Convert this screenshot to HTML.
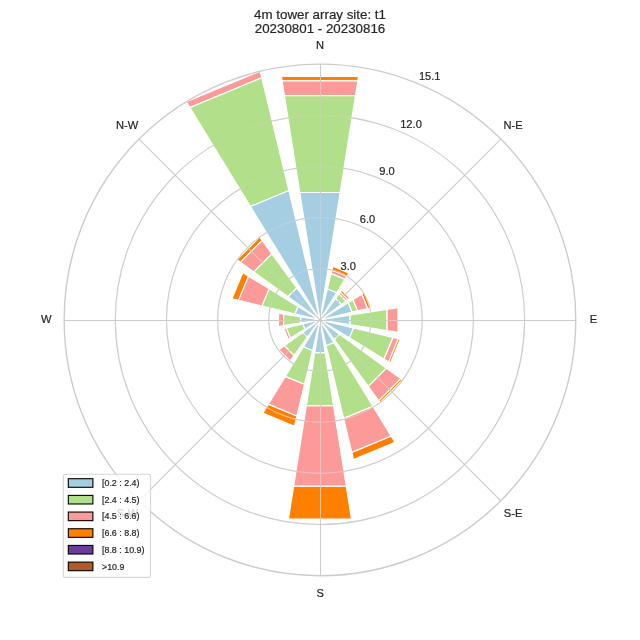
<!DOCTYPE html><html><head><meta charset="utf-8"><title>windrose</title>
<style>html,body{margin:0;padding:0;background:#fff}svg{display:block}text{font-family:'Liberation Sans',Arial,sans-serif;fill:#262626;stroke:#262626;stroke-width:0.2px}</style></head><body>
<svg width="640" height="640" viewBox="0 0 640 640">
<rect width="640" height="640" fill="#fff"/>
<defs><clipPath id="c"><circle cx="319.95" cy="319.90" r="255.80"/></clipPath></defs>
<g clip-path="url(#c)" stroke="#fff" stroke-width="1.2" stroke-linejoin="miter">
<polygon points="282.09,80.88 357.81,80.88 358.51,76.43 281.39,76.43" fill="#ff7f00"/>
<polygon points="331.90,270.11 346.70,276.24 348.79,272.83 332.84,266.23" fill="#ff7f00"/>
<polygon points="340.17,292.07 347.78,299.68 349.80,298.21 341.64,290.05" fill="#ff7f00"/>
<polygon points="361.73,294.30 367.60,308.46 370.42,307.78 364.20,292.78" fill="#ff7f00"/>
<polygon points="398.13,338.67 388.50,361.91 390.38,363.06 400.27,339.18" fill="#ff7f00"/>
<polygon points="400.69,378.56 378.61,400.64 380.02,402.58 402.63,379.97" fill="#ff7f00"/>
<polygon points="391.11,436.03 351.75,452.34 353.47,459.53 394.98,442.34" fill="#ff7f00"/>
<polygon points="346.28,486.13 293.62,486.13 288.40,519.12 351.50,519.12" fill="#ff7f00"/>
<polygon points="296.89,415.97 268.33,404.14 262.84,413.09 294.43,426.18" fill="#ff7f00"/>
<polygon points="238.56,300.36 248.58,276.17 242.79,272.61 231.95,298.77" fill="#ff7f00"/>
<polygon points="240.50,262.18 262.23,240.45 259.64,236.89 236.94,259.59" fill="#ff7f00"/>
<polygon points="284.42,95.60 355.48,95.60 357.81,80.88 282.09,80.88" fill="#fb9a99"/>
<polygon points="331.06,273.62 344.82,279.31 346.70,276.24 331.90,270.11" fill="#fb9a99"/>
<polygon points="338.82,293.93 345.92,301.03 347.78,299.68 340.17,292.07" fill="#fb9a99"/>
<polygon points="352.86,299.73 357.48,310.89 367.60,308.46 361.73,294.30" fill="#fb9a99"/>
<polygon points="386.82,309.31 386.82,330.49 397.98,332.26 397.98,307.54" fill="#fb9a99"/>
<polygon points="392.88,337.41 383.90,359.09 388.50,361.91 398.13,338.67" fill="#fb9a99"/>
<polygon points="386.37,368.16 368.21,386.32 378.61,400.64 400.69,378.56" fill="#fb9a99"/>
<polygon points="372.88,406.27 343.60,418.40 351.75,452.34 391.11,436.03" fill="#fb9a99"/>
<polygon points="333.54,405.73 306.36,405.73 293.62,486.13 346.28,486.13" fill="#fb9a99"/>
<polygon points="304.50,384.27 285.36,376.34 268.33,404.14 296.89,415.97" fill="#fb9a99"/>
<polygon points="294.15,355.42 284.43,345.70 278.85,349.76 290.09,361.00" fill="#fb9a99"/>
<polygon points="290.53,337.93 286.40,327.95 283.78,328.58 288.23,339.34" fill="#fb9a99"/>
<polygon points="283.70,325.64 283.70,314.16 278.47,313.33 278.47,326.47" fill="#fb9a99"/>
<polygon points="262.09,306.01 269.22,288.81 248.58,276.17 238.56,300.36" fill="#fb9a99"/>
<polygon points="253.85,271.88 271.93,253.80 262.23,240.45 240.50,262.18" fill="#fb9a99"/>
<polygon points="189.85,107.59 261.82,77.78 260.23,71.17 186.29,101.79" fill="#fb9a99"/>
<polygon points="299.77,192.49 340.13,192.49 355.48,95.60 284.42,95.60" fill="#b2df8a"/>
<polygon points="327.37,288.98 336.57,292.79 344.82,279.31 331.06,273.62" fill="#b2df8a"/>
<polygon points="335.47,298.54 341.31,304.38 345.92,301.03 338.82,293.93" fill="#b2df8a"/>
<polygon points="348.09,302.66 352.04,312.20 357.48,310.89 352.86,299.73" fill="#b2df8a"/>
<polygon points="349.78,315.18 349.78,324.62 386.82,330.49 386.82,309.31" fill="#b2df8a"/>
<polygon points="353.40,327.93 349.28,337.87 383.90,359.09 392.88,337.41" fill="#b2df8a"/>
<polygon points="339.61,334.18 334.23,339.56 368.21,386.32 386.37,368.16" fill="#b2df8a"/>
<polygon points="333.80,342.49 326.14,345.67 343.60,418.40 372.88,406.27" fill="#b2df8a"/>
<polygon points="325.14,352.69 314.76,352.69 306.36,405.73 333.54,405.73" fill="#b2df8a"/>
<polygon points="312.60,350.53 303.49,346.76 285.36,376.34 304.50,384.27" fill="#b2df8a"/>
<polygon points="307.43,337.13 302.72,332.42 284.43,345.70 294.15,355.42" fill="#b2df8a"/>
<polygon points="305.03,329.04 302.93,323.99 286.40,327.95 290.53,337.93" fill="#b2df8a"/>
<polygon points="300.79,322.93 300.79,316.87 283.70,314.16 283.70,325.64" fill="#b2df8a"/>
<polygon points="294.96,313.90 298.04,306.47 269.22,288.81 262.09,306.01" fill="#b2df8a"/>
<polygon points="288.07,296.74 296.79,288.02 271.93,253.80 253.85,271.88" fill="#b2df8a"/>
<polygon points="250.46,206.50 288.90,190.57 261.82,77.78 189.85,107.59" fill="#b2df8a"/>
<polygon points="319.95,319.90 319.95,319.90 340.13,192.49 299.77,192.49" fill="#a6cee3"/>
<polygon points="319.95,319.90 319.95,319.90 336.57,292.79 327.37,288.98" fill="#a6cee3"/>
<polygon points="319.95,319.90 319.95,319.90 341.31,304.38 335.47,298.54" fill="#a6cee3"/>
<polygon points="319.95,319.90 319.95,319.90 352.04,312.20 348.09,302.66" fill="#a6cee3"/>
<polygon points="319.95,319.90 319.95,319.90 349.78,324.62 349.78,315.18" fill="#a6cee3"/>
<polygon points="319.95,319.90 319.95,319.90 349.28,337.87 353.40,327.93" fill="#a6cee3"/>
<polygon points="319.95,319.90 319.95,319.90 334.23,339.56 339.61,334.18" fill="#a6cee3"/>
<polygon points="319.95,319.90 319.95,319.90 326.14,345.67 333.80,342.49" fill="#a6cee3"/>
<polygon points="319.95,319.90 319.95,319.90 314.76,352.69 325.14,352.69" fill="#a6cee3"/>
<polygon points="319.95,319.90 319.95,319.90 303.49,346.76 312.60,350.53" fill="#a6cee3"/>
<polygon points="319.95,319.90 319.95,319.90 302.72,332.42 307.43,337.13" fill="#a6cee3"/>
<polygon points="319.95,319.90 319.95,319.90 302.93,323.99 305.03,329.04" fill="#a6cee3"/>
<polygon points="319.95,319.90 319.95,319.90 300.79,316.87 300.79,322.93" fill="#a6cee3"/>
<polygon points="319.95,319.90 319.95,319.90 298.04,306.47 294.96,313.90" fill="#a6cee3"/>
<polygon points="319.95,319.90 319.95,319.90 296.79,288.02 288.07,296.74" fill="#a6cee3"/>
<polygon points="319.95,319.90 319.95,319.90 288.90,190.57 250.46,206.50" fill="#a6cee3"/>
</g>
<g fill="none" stroke="#cccccc" stroke-width="1.05" style="mix-blend-mode:luminosity">
<circle cx="319.95" cy="319.90" r="51.16"/>
<circle cx="319.95" cy="319.90" r="102.32"/>
<circle cx="319.95" cy="319.90" r="153.48"/>
<circle cx="319.95" cy="319.90" r="204.64"/>
<line x1="319.95" y1="319.90" x2="500.83" y2="139.02"/>
<line x1="319.95" y1="319.90" x2="500.83" y2="500.78"/>
<line x1="319.95" y1="319.90" x2="139.07" y2="500.78"/>
<line x1="319.95" y1="319.90" x2="139.07" y2="139.02"/>
<line x1="320.5" y1="64.10" x2="320.5" y2="575.70"/>
<line x1="64.15" y1="320.5" x2="575.75" y2="320.5"/>
</g>
<g fill="none" stroke="#cccccc" stroke-width="1.05" stroke-opacity="0.3">
<circle cx="319.95" cy="319.90" r="51.16"/>
<circle cx="319.95" cy="319.90" r="102.32"/>
<circle cx="319.95" cy="319.90" r="153.48"/>
<circle cx="319.95" cy="319.90" r="204.64"/>
<line x1="319.95" y1="319.90" x2="500.83" y2="139.02"/>
<line x1="319.95" y1="319.90" x2="500.83" y2="500.78"/>
<line x1="319.95" y1="319.90" x2="139.07" y2="500.78"/>
<line x1="319.95" y1="319.90" x2="139.07" y2="139.02"/>
<line x1="320.5" y1="64.10" x2="320.5" y2="575.70"/>
<line x1="64.15" y1="320.5" x2="575.75" y2="320.5"/>
</g>
<circle cx="319.95" cy="319.90" r="255.80" fill="none" stroke="#cccccc" stroke-width="1.4"/>
<text x="320" y="19.3" font-size="13.33" text-anchor="middle">4m tower array site: t1</text>
<text x="320" y="33.3" font-size="13.33" text-anchor="middle">20230801 - 20230816</text>
<text x="320" y="48.9" font-size="11.11" text-anchor="middle">N</text>
<text x="320.2" y="597" font-size="11.11" text-anchor="middle">S</text>
<text x="589.8" y="322.9" font-size="11.11">E</text>
<text x="51.4" y="322.9" font-size="11.11" text-anchor="end">W</text>
<text x="503.6" y="129" font-size="11.11">N-E</text>
<text x="503.8" y="517.1" font-size="11.11">S-E</text>
<text x="138.3" y="128.9" font-size="11.11" text-anchor="end">N-W</text>
<text x="138.3" y="517.1" font-size="11.11" text-anchor="end">S-W</text>
<text x="348.2" y="269.7" font-size="11.11" text-anchor="middle">3.0</text>
<text x="367.6" y="222.5" font-size="11.11" text-anchor="middle">6.0</text>
<text x="387.0" y="175.3" font-size="11.11" text-anchor="middle">9.0</text>
<text x="411.0" y="127.8" font-size="11.11" text-anchor="middle">12.0</text>
<text x="429.7" y="80.1" font-size="11.11" text-anchor="middle">15.1</text>
<rect x="63.3" y="474.3" width="87.2" height="103.1" rx="2.2" ry="2.2" fill="#fff" fill-opacity="0.8" stroke="#cccccc" stroke-opacity="0.8" stroke-width="1.1"/>
<rect x="68.3" y="478.70" width="24.6" height="8.6" fill="#a6cee3" stroke="#000" stroke-width="1.1"/>
<text x="102" y="486.10" font-size="8.89">[0.2 : 2.4)</text>
<rect x="68.3" y="495.38" width="24.6" height="8.6" fill="#b2df8a" stroke="#000" stroke-width="1.1"/>
<text x="102" y="502.78" font-size="8.89">[2.4 : 4.5)</text>
<rect x="68.3" y="512.06" width="24.6" height="8.6" fill="#fb9a99" stroke="#000" stroke-width="1.1"/>
<text x="102" y="519.46" font-size="8.89">[4.5 : 6.6)</text>
<rect x="68.3" y="528.74" width="24.6" height="8.6" fill="#ff7f00" stroke="#000" stroke-width="1.1"/>
<text x="102" y="536.14" font-size="8.89">[6.6 : 8.8)</text>
<rect x="68.3" y="545.42" width="24.6" height="8.6" fill="#6a3d9a" stroke="#000" stroke-width="1.1"/>
<text x="102" y="552.82" font-size="8.89">[8.8 : 10.9)</text>
<rect x="68.3" y="562.10" width="24.6" height="8.6" fill="#b15928" stroke="#000" stroke-width="1.1"/>
<text x="102" y="569.50" font-size="8.89">>10.9</text>
</svg></body></html>
